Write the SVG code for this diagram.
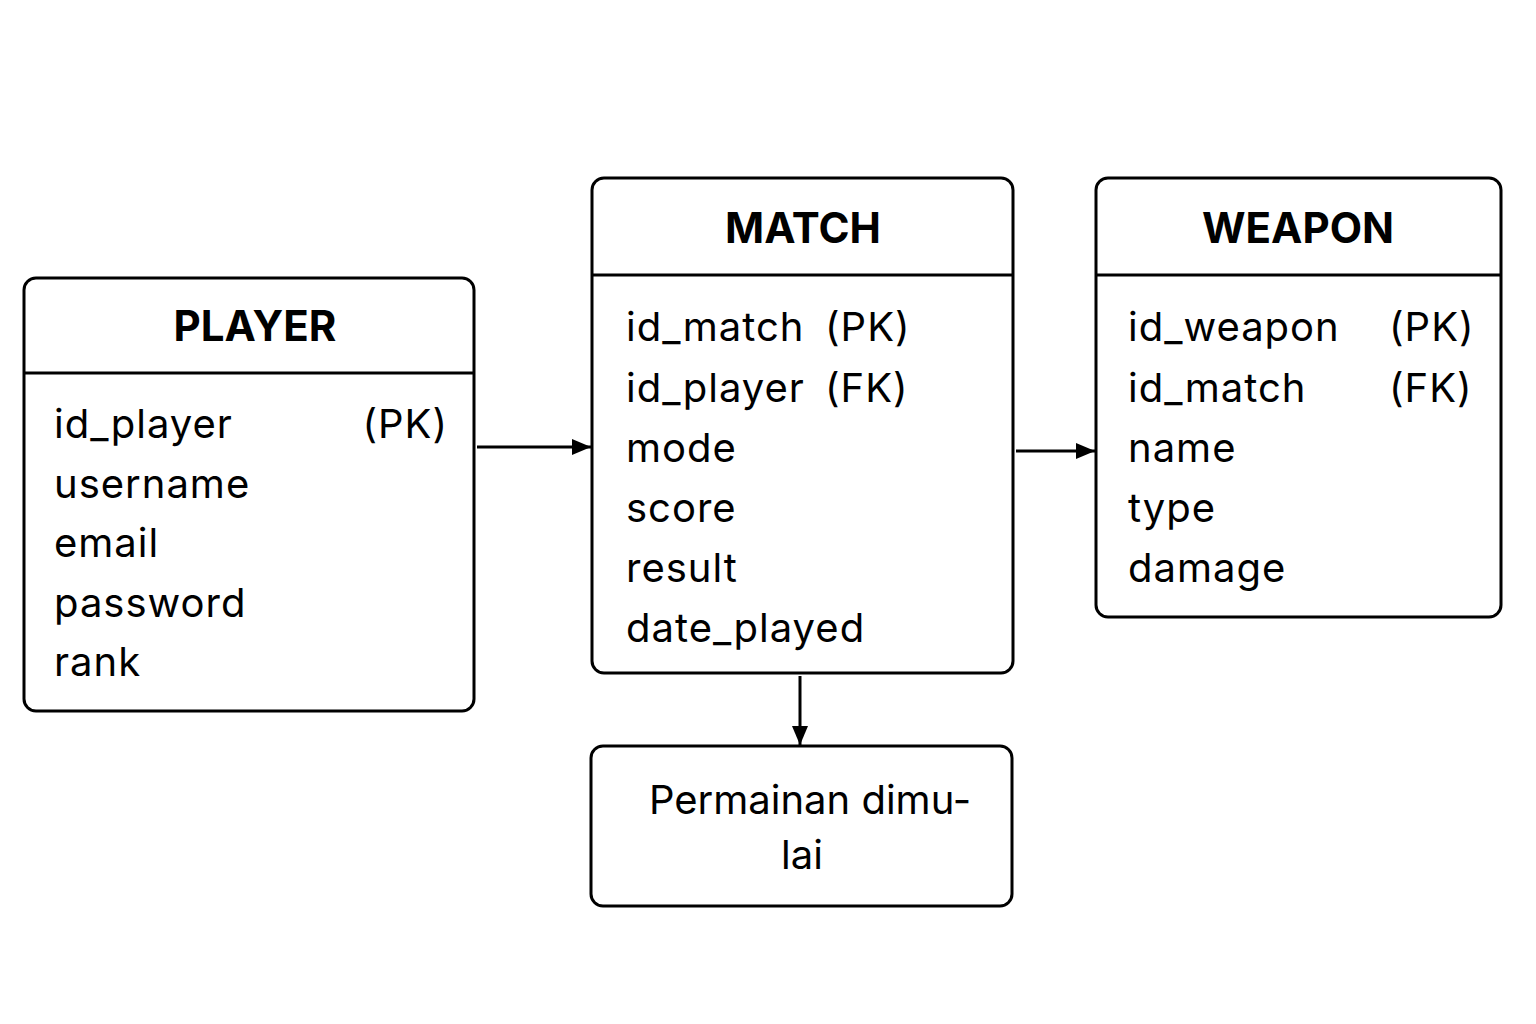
<svg xmlns="http://www.w3.org/2000/svg" width="1536" height="1024" viewBox="0 0 1536 1024">
<defs>
<marker id="arr" markerWidth="19" markerHeight="18" refX="19" refY="9" orient="auto" markerUnits="userSpaceOnUse" viewBox="0 0 19 18">
<path d="M0,1 L19,9 L0,17 Z" fill="#000"/>
</marker>
<style>
.box{fill:#fff;stroke:#000;stroke-width:3}
.div{stroke:#000;stroke-width:3}
.title{font-family:Inter,"Liberation Sans",sans-serif;font-weight:700;font-size:42px;text-anchor:middle;fill:#000}
.row{font-family:Inter,"Liberation Sans",sans-serif;font-size:40px;letter-spacing:1px;fill:#000}
.lbl{font-family:Inter,"Liberation Sans",sans-serif;font-size:40px;fill:#000;text-anchor:middle}
.conn{stroke:#000;stroke-width:3;fill:none}
</style>
</defs>
<rect width="1536" height="1024" fill="#fff"/>
<g id="player">
<rect class="box" x="24" y="278" width="450" height="433" rx="12"/>
<line class="div" x1="24" y1="373" x2="474" y2="373"/>
<text class="title" x="255" y="341">PLAYER</text>
<text class="row" x="54" y="438">id_player</text>
<text class="row" x="448" y="438" text-anchor="end">(PK)</text>
<text class="row" x="54" y="498">username</text>
<text class="row" x="54" y="557">email</text>
<text class="row" x="54" y="617">password</text>
<text class="row" x="54" y="676">rank</text>
</g>
<g id="match">
<rect class="box" x="592" y="178" width="421" height="495" rx="12"/>
<line class="div" x1="592" y1="275" x2="1013" y2="275"/>
<text class="title" x="803" y="243">MATCH</text>
<text class="row" x="626" y="341">id_match</text>
<text class="row" x="825" y="341">(PK)</text>
<text class="row" x="626" y="402">id_player</text>
<text class="row" x="825" y="402">(FK)</text>
<text class="row" x="626" y="462">mode</text>
<text class="row" x="626" y="522">score</text>
<text class="row" x="626" y="582">result</text>
<text class="row" x="626" y="642">date_played</text>
</g>
<g id="weapon">
<rect class="box" x="1096" y="178" width="405" height="439" rx="12"/>
<line class="div" x1="1096" y1="275" x2="1501" y2="275"/>
<text class="title" x="1298" y="243">WEAPON</text>
<text class="row" x="1128" y="341">id_weapon</text>
<text class="row" x="1389" y="341">(PK)</text>
<text class="row" x="1128" y="402">id_match</text>
<text class="row" x="1389" y="402">(FK)</text>
<text class="row" x="1128" y="462">name</text>
<text class="row" x="1128" y="522">type</text>
<text class="row" x="1128" y="582">damage</text>
</g>
<g id="start">
<rect class="box" x="591" y="746" width="421" height="160" rx="12"/>
<text class="lbl" x="810" y="814">Permainan dimu-</text>
<text class="lbl" x="802" y="869">lai</text>
</g>
<g id="connectors">
<line class="conn" x1="477" y1="447" x2="591" y2="447" marker-end="url(#arr)"/>
<line class="conn" x1="1016" y1="451" x2="1095" y2="451" marker-end="url(#arr)"/>
<line class="conn" x1="800" y1="676" x2="800" y2="745" marker-end="url(#arr)"/>
</g>
</svg>
